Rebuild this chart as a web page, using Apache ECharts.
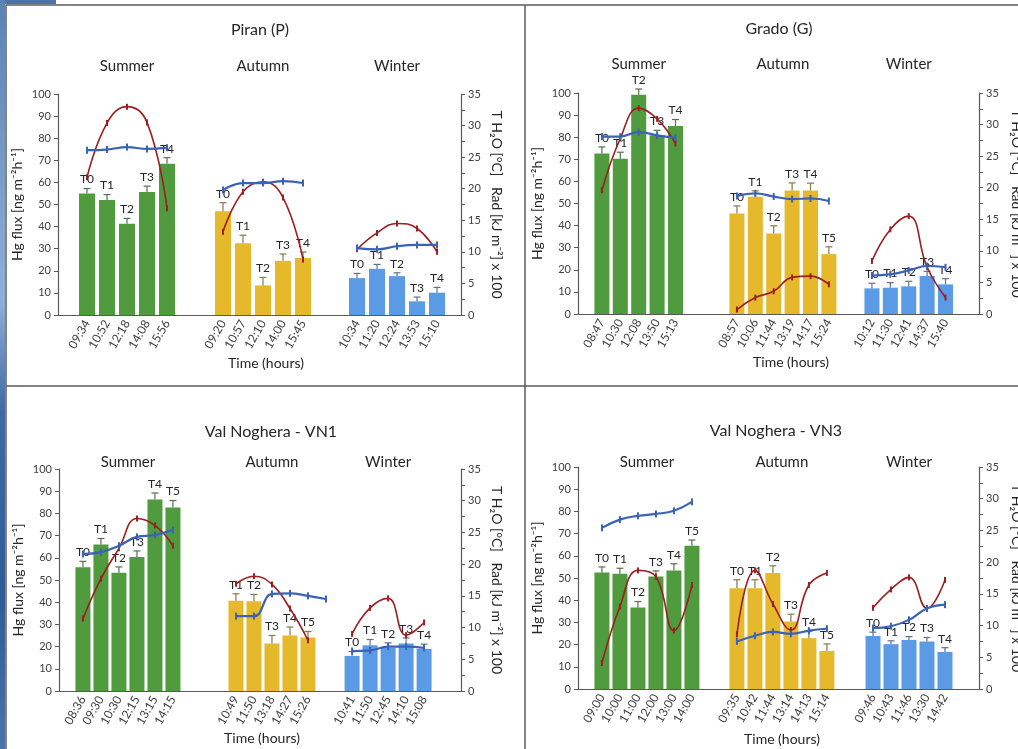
<!DOCTYPE html>
<html>
<head>
<meta charset="utf-8">
<script src="https://cdn.jsdelivr.net/npm/echarts@6/dist/echarts.min.js"></script>
<style>html,body{margin:0;padding:0;background:#fff}#c{width:1018px;height:749px}</style>
</head>
<body>
<div id="c"></div>
<script>
// ---------------- DATA ----------------
const seasonNames = ['Summer', 'Autumn', 'Winter'];
const fluxAxisTicks = [0, 10, 20, 30, 40, 50, 60, 70, 80, 90, 100];
const rightAxisTicks = [0, 5, 10, 15, 20, 25, 30, 35];

// Piran (P)
const piranGroupSizes = [5, 5, 5];
const piranTimes = ['09:34','10:52','12:18','14:08','15:56', '09:20','10:57','12:10','14:00','15:45', '10:34','11:20','12:24','13:53','15:10'];
const piranLabels = ['T0','T1','T2','T3','T4', 'T0','T1','T2','T3','T4', 'T0','T1','T2','T3','T4'];
const piranFlux = [55.0, 52.0, 41.3, 55.6, 68.4, 47.0, 32.5, 13.4, 24.5, 25.8, 16.7, 20.9, 17.6, 6.2, 10.1];
const piranFluxErr = [2.2, 2.5, 2.4, 2.7, 2.8, 3.8, 3.6, 3.6, 3.1, 2.7, 2.1, 2.0, 1.5, 1.9, 2.4];
const piranTempWater = [26.1, 26.2, 26.6, 26.3, 26.5, 19.8, 20.9, 20.9, 21.2, 20.9, 10.6, 10.4, 10.9, 11.1, 11.1];
const piranRad = [21.8, 30.4, 33.0, 30.5, 16.9, 13.2, 19.5, 21.1, 18.6, 8.8, 10.4, 13.0, 14.5, 13.7, 10.0];

// Grado (G)
const gradoGroupSizes = [5, 6, 5];
const gradoTimes = ['08:47','10:30','12:08','13:50','15:13', '08:57','10:06','11:44','13:19','14:17','15:24', '10:12','11:30','12:41','14:37','15:40'];
const gradoLabels = ['T0','T1','T2','T3','T4', 'T0','T1','T2','T3','T4','T5', 'T0','T1','T2','T3','T4'];
const gradoFlux = [72.6, 70.2, 99.2, 80.9, 85.1, 45.5, 53.0, 36.4, 55.9, 55.9, 27.1, 11.6, 11.9, 12.5, 17.2, 13.4];
const gradoFluxErr = [3.0, 3.0, 2.6, 2.2, 2.9, 3.4, 2.7, 3.5, 3.4, 3.3, 3.3, 2.3, 2.3, 2.3, 2.1, 2.6];
const gradoTempWater = [28.1, 28.1, 28.8, 28.3, 27.9, 18.7, 19.1, 18.6, 18.2, 18.3, 17.9, 6.1, 6.3, 6.9, 7.6, 7.4];
const gradoRad = [19.6, 27.8, 32.6, 30.9, 27.0, 0.7, 2.6, 3.6, 5.8, 6.0, 4.7, 8.4, 13.4, 15.5, 7.4, 2.6];

// Val Noghera - VN1
const vn1GroupSizes = [6, 6, 5];
const vn1Times = ['08:36','09:30','10:30','12:15','13:15','14:15', '10:49','11:50','13:18','14:27','15:26','', '10:41','11:50','12:45','14:10','15:08'];
const vn1Labels = ['T0','T1','T2','T3','T4','T5', 'T1','T2','T3','T4','T5','', 'T0','T1','T2','T3','T4'];
const vn1Flux = [55.7, 66.0, 53.3, 60.4, 86.3, 82.7, 40.7, 40.4, 21.4, 25.0, 24.1, null, 15.8, 20.6, 19.4, 21.4, 19.0];
const vn1FluxErr = [2.7, 2.7, 2.6, 2.7, 2.9, 3.1, 3.1, 3.1, 3.6, 3.8, 2.7, null, 2.0, 2.6, 2.3, 2.5, 2.1];
const vn1TempWater = [21.6, 21.9, 22.9, 24.3, 24.6, 25.4, 11.8, 11.8, 15.3, 15.4, 15.0, 14.5, 6.3, 6.4, 7.0, 7.0, 6.8];
const vn1Rad = [11.4, 17.7, 22.5, 27.2, 26.1, 22.9, 16.9, 18.1, 16.8, 13.0, 8.0, null, 9.0, 13.1, 14.6, 8.8, 10.8];

// Val Noghera - VN3
const vn3GroupSizes = [6, 6, 5];
const vn3Times = ['09:00','10:00','11:00','12:00','13:00','14:00', '09:35','10:42','11:44','13:14','14:13','15:14', '09:46','10:43','11:46','13:30','14:42'];
const vn3Labels = ['T0','T1','T2','T3','T4','T5', 'T0','T1','T2','T3','T4','T5', 'T0','T1','T2','T3','T4'];
const vn3Flux = [52.5, 51.9, 36.7, 50.7, 53.4, 64.5, 45.4, 45.4, 52.2, 30.4, 22.9, 17.1, 23.9, 20.2, 22.1, 21.4, 16.7];
const vn3FluxErr = [2.5, 2.5, 2.7, 2.5, 3.0, 2.6, 3.8, 3.8, 3.3, 3.3, 3.0, 3.2, 1.7, 1.5, 1.5, 1.8, 1.9];
const vn3TempWater = [25.4, 26.7, 27.3, 27.6, 28.1, 29.5, 7.5, 8.4, 9.0, 8.7, 9.2, 9.5, 9.6, 9.9, 10.9, 12.7, 13.3];
const vn3Rad = [4.1, 13.0, 18.7, 17.7, 9.2, 16.4, 8.6, 18.7, 13.4, 9.3, 16.4, 18.3, 12.8, 15.7, 17.6, 12.7, 17.2];

// ---------------- STYLE / LAYOUT ----------------
const FONT = 'Lato, "Open Sans", sans-serif';
const seasonColors = ['#4f9b3e', '#e6b92c', '#5b9be6'];
const errColors = ['#56704e', '#857a52', '#5d7391'];
const blueLine = '#3a62b6';
const redLine = '#9b1f22';
const axisColor = '#595959';
const labelColor = '#404040';
const textColor = '#262626';
const leftName = 'Hg flux [ng m\u207B\u00B2h\u207B\u00B9]';
const rightName = 'T H\u2082O [\u00B0C]   Rad [kJ m\u207B\u00B2] x 100';

const panels = [
  { title: 'Piran (P)', sizes: piranGroupSizes, times: piranTimes, labels: piranLabels, flux: piranFlux, err: piranFluxErr, tw: piranTempWater, rad: piranRad,
    grid: { left: 58, top: 94, width: 403, height: 221 }, xMax: 20.15, starts: [1.45, 8.25, 14.95], barWidth: 16,
    titlePos: [260, 30], seasonY: 66, timePos: [266, 363], rightGap: 29, edgeName: false },
  { title: 'Grado (G)', sizes: gradoGroupSizes, times: gradoTimes, labels: gradoLabels, flux: gradoFlux, err: gradoFluxErr, tw: gradoTempWater, rad: gradoRad,
    grid: { left: 578, top: 93, width: 401, height: 221 }, xMax: 21.8, starts: [1.30, 8.64, 15.98], barWidth: 15,
    titlePos: [779, 29], seasonY: 64, timePos: [791, 362], rightGap: 29, edgeName: true },
  { title: 'Val Noghera - VN1', sizes: vn1GroupSizes, times: vn1Times, labels: vn1Labels, flux: vn1Flux, err: vn1FluxErr, tw: vn1TempWater, rad: vn1Rad,
    grid: { left: 59, top: 469, width: 402, height: 222 }, xMax: 22.33, starts: [1.33, 9.83, 16.28], barWidth: 15,
    titlePos: [271, 432], seasonY: 462, timePos: [262, 738], rightGap: 29, edgeName: false },
  { title: 'Val Noghera - VN3', sizes: vn3GroupSizes, times: vn3Times, labels: vn3Labels, flux: vn3Flux, err: vn3FluxErr, tw: vn3TempWater, rad: vn3Rad,
    grid: { left: 578, top: 467, width: 401, height: 222 }, xMax: 22.28, starts: [1.33, 8.83, 16.39], barWidth: 15,
    titlePos: [776, 431], seasonY: 462, timePos: [782, 739], rightGap: 29, edgeName: true }
];

const chart = echarts.init(document.getElementById('c'));
const grids = [], xAxes = [], yAxes = [], series = [];

panels.forEach((p, pi) => {
  grids.push(Object.assign({ containLabel: false }, p.grid));
  const pos = [], grp = [];
  p.sizes.forEach((n, g) => { for (let i = 0; i < n; i++) { pos.push(p.starts[g] + i); grp.push(g); } });
  p._pos = pos; p._grp = grp;
  const labelVals = pos.filter((x, i) => p.times[i] !== '');

  xAxes.push({
    type: 'value', gridIndex: pi, min: 0, max: p.xMax,
    axisLine: { show: true, onZero: false, lineStyle: { color: axisColor, width: 1.2 } },
    axisTick: { show: false }, splitLine: { show: false },
    axisLabel: {
      customValues: labelVals, rotate: 60, margin: 6, fontSize: 12, color: labelColor, fontFamily: FONT,
      formatter: (v) => { const i = pos.findIndex(x => Math.abs(x - v) < 1e-6); return i >= 0 ? p.times[i] : ''; }
    }
  });
  yAxes.push({
    type: 'value', gridIndex: pi, position: 'left', min: fluxAxisTicks[0], max: fluxAxisTicks[fluxAxisTicks.length - 1], interval: 10,
    axisLine: { show: true, lineStyle: { color: axisColor, width: 1.2 } },
    axisTick: { show: true, length: 4, lineStyle: { color: axisColor } },
    splitLine: { show: false },
    axisLabel: { fontSize: 11, color: labelColor, margin: 7, fontFamily: FONT },
    name: leftName, nameLocation: 'middle', nameRotate: 90, nameGap: 34,
    nameTextStyle: { fontSize: 14, color: textColor, fontFamily: FONT }
  });
  yAxes.push({
    type: 'value', gridIndex: pi, position: 'right', min: rightAxisTicks[0], max: rightAxisTicks[rightAxisTicks.length - 1], interval: 2.5,
    axisLine: { show: true, lineStyle: { color: axisColor, width: 1.2 } },
    axisTick: { show: true, length: 4, lineStyle: { color: axisColor } },
    splitLine: { show: false },
    axisLabel: { fontSize: 11, color: labelColor, margin: 7, fontFamily: FONT,
      formatter: (v) => rightAxisTicks.indexOf(v) >= 0 ? String(v) : '' },
    name: p.edgeName ? '' : rightName, nameLocation: 'middle', nameRotate: -90, nameGap: p.rightGap,
    nameTextStyle: { fontSize: 14, color: textColor, fontFamily: FONT }
  });

  // bars
  series.push({
    type: 'bar', xAxisIndex: pi, yAxisIndex: 2 * pi, barWidth: p.barWidth, z: 2,
    data: pos.map((x, i) => p.flux[i] == null ? null : {
      value: [x, p.flux[i]],
      itemStyle: { color: seasonColors[grp[i]] }
    }).filter(Boolean)
  });

  // error bars + T labels
  const errItems = pos.map((x, i) => ({ x, y: p.flux[i], e: p.err[i], label: p.labels[i], g: grp[i] })).filter(d => d.y != null);
  series.push({
    type: 'custom', xAxisIndex: pi, yAxisIndex: 2 * pi, z: 3,
    data: errItems.map(d => [d.x, d.y, d.y + d.e]),
    encode: { x: 0, y: [1, 2] },
    renderItem: (params, api) => {
      const d = errItems[params.dataIndex];
      const b = api.coord([d.x, d.y]);
      const t = api.coord([d.x, d.y + d.e]);
      const c = errColors[d.g];
      return {
        type: 'group', children: [
          { type: 'line', shape: { x1: b[0], y1: b[1], x2: t[0], y2: t[1] }, style: { stroke: c, lineWidth: 1.2 } },
          { type: 'line', shape: { x1: t[0] - 3.5, y1: t[1], x2: t[0] + 3.5, y2: t[1] }, style: { stroke: c, lineWidth: 1.2 } },
          { type: 'text', x: t[0], y: t[1] - 3, style: { text: d.label, textAlign: 'center', textVerticalAlign: 'bottom', fill: textColor, font: '12px ' + FONT } }
        ]
      };
    }
  });

  // lines per season
  p.sizes.forEach((n, g) => {
    const idx = pos.map((x, i) => i).filter(i => grp[i] === g);
    series.push({
      type: 'line', xAxisIndex: pi, yAxisIndex: 2 * pi + 1, smooth: 0.45, z: 5,
      data: idx.filter(i => p.tw[i] != null).map(i => [pos[i], p.tw[i]]),
      lineStyle: { color: blueLine, width: 2.2 }, itemStyle: { color: blueLine },
      symbol: 'rect', symbolSize: [2, 7], showSymbol: true
    });
    series.push({
      type: 'line', xAxisIndex: pi, yAxisIndex: 2 * pi + 1, smooth: 0.45, z: 4,
      data: idx.filter(i => p.rad[i] != null).map(i => [pos[i], p.rad[i]]),
      lineStyle: { color: redLine, width: 1.6 }, itemStyle: { color: redLine },
      symbol: 'rect', symbolSize: [2, 6], showSymbol: true
    });
  });
});

chart.setOption({
  animation: false,
  backgroundColor: '#ffffff',
  textStyle: { fontFamily: FONT },
  grid: grids, xAxis: xAxes, yAxis: yAxes, series: series
});

// ---------------- GRAPHICS (frame, titles, season labels) ----------------
const gfx = [];
const frameStyle = { stroke: '#5a5a5a', lineWidth: 1.5 };
gfx.push({ type: 'rect', shape: { x: 0, y: 0, width: 56, height: 4 }, style: { fill: '#4a74a8' }, silent: true });
gfx.push({ type: 'rect', shape: { x: 0, y: 0, width: 5, height: 749 }, silent: true,
  style: { fill: new echarts.graphic.LinearGradient(0, 0, 0, 1, [
    { offset: 0, color: '#5a82b4' }, { offset: 0.4, color: '#8fb0d6' }, { offset: 0.55, color: '#3f6aa3' },
    { offset: 0.8, color: '#2f5b98' }, { offset: 1, color: '#4a74a8' }]) } });
gfx.push({ type: 'line', shape: { x1: 6, y1: 5, x2: 1018, y2: 5 }, style: frameStyle, silent: true });
gfx.push({ type: 'line', shape: { x1: 6, y1: 5, x2: 6, y2: 749 }, style: frameStyle, silent: true });
gfx.push({ type: 'line', shape: { x1: 525, y1: 5, x2: 525, y2: 749 }, style: frameStyle, silent: true });
gfx.push({ type: 'line', shape: { x1: 6, y1: 386, x2: 1018, y2: 386 }, style: frameStyle, silent: true });

panels.forEach((p, pi) => {
  gfx.push({ type: 'text', x: p.titlePos[0], y: p.titlePos[1], silent: true,
    style: { text: p.title, textAlign: 'center', textVerticalAlign: 'middle', fill: textColor, font: '16px ' + FONT } });
  gfx.push({ type: 'text', x: p.timePos[0], y: p.timePos[1], silent: true,
    style: { text: 'Time (hours)', textAlign: 'center', textVerticalAlign: 'middle', fill: textColor, font: '14px ' + FONT } });
  if (p.edgeName) {
    // right-axis title of the right-hand panels runs off the picture edge
    gfx.push({ type: 'text', x: 1017, y: p.grid.top + p.grid.height / 2, rotation: -Math.PI / 2, silent: true,
      style: { text: rightName, textAlign: 'center', textVerticalAlign: 'middle', fill: textColor, font: '14px ' + FONT } });
  }
  p.sizes.forEach((n, g) => {
    const xs = p._pos.filter((x, i) => p._grp[i] === g && p.flux[i] != null);
    const c = (Math.min(...xs) + Math.max(...xs)) / 2;
    const px = chart.convertToPixel({ xAxisIndex: pi }, c);
    gfx.push({ type: 'text', x: px, y: p.seasonY, silent: true,
      style: { text: seasonNames[g], textAlign: 'center', textVerticalAlign: 'middle', fill: textColor, font: '15px ' + FONT } });
  });
});

chart.setOption({ graphic: gfx });
</script>
</body>
</html>
